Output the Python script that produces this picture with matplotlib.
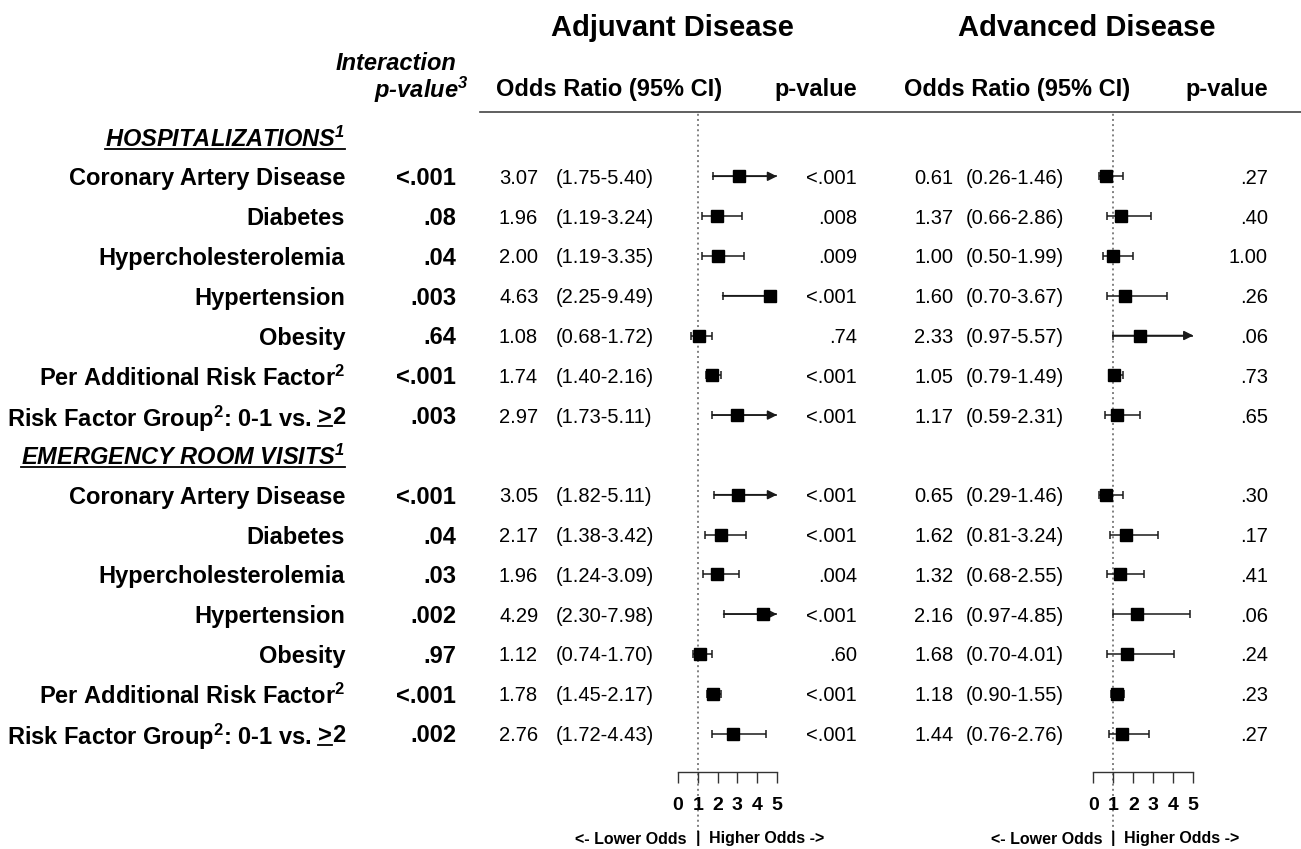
import matplotlib
matplotlib.use("Agg")
import matplotlib.pyplot as plt
import matplotlib.transforms as mtransforms
from matplotlib.lines import Line2D
import numpy as np

plt.rcParams['font.family'] = ['Liberation Sans', 'DejaVu Sans']
plt.rcParams['mathtext.fontset'] = 'custom'
plt.rcParams['mathtext.rm'] = 'Liberation Sans'
plt.rcParams['mathtext.bf'] = 'Liberation Sans:bold'
plt.rcParams['mathtext.it'] = 'Liberation Sans:italic'
plt.rcParams['mathtext.bfit'] = 'Liberation Sans:italic:bold'

# ---- data ----
sections = ["HOSPITALIZATIONS", "EMERGENCY ROOM VISITS"]
factors = ["Coronary Artery Disease", "Diabetes", "Hypercholesterolemia",
           "Hypertension", "Obesity", "Per Additional Risk Factor$^{\\mathbf{2}}$",
           "Risk Factor Group$^{\\mathbf{2}}$: 0-1 vs. >2"]

interaction_p = ["<.001", ".08", ".04", ".003", ".64", "<.001", ".003",
                 "<.001", ".04", ".03", ".002", ".97", "<.001", ".002"]

adj_or = [3.07, 1.96, 2.00, 4.63, 1.08, 1.74, 2.97,
          3.05, 2.17, 1.96, 4.29, 1.12, 1.78, 2.76]
adj_lo = [1.75, 1.19, 1.19, 2.25, 0.68, 1.40, 1.73,
          1.82, 1.38, 1.24, 2.30, 0.74, 1.45, 1.72]
adj_hi = [5.40, 3.24, 3.35, 9.49, 1.72, 2.16, 5.11,
          5.11, 3.42, 3.09, 7.98, 1.70, 2.17, 4.43]
adj_p = ["<.001", ".008", ".009", "<.001", ".74", "<.001", "<.001",
         "<.001", "<.001", ".004", "<.001", ".60", "<.001", "<.001"]

adv_or = [0.61, 1.37, 1.00, 1.60, 2.33, 1.05, 1.17,
          0.65, 1.62, 1.32, 2.16, 1.68, 1.18, 1.44]
adv_lo = [0.26, 0.66, 0.50, 0.70, 0.97, 0.79, 0.59,
          0.29, 0.81, 0.68, 0.97, 0.70, 0.90, 0.76]
adv_hi = [1.46, 2.86, 1.99, 3.67, 5.57, 1.49, 2.31,
          1.46, 3.24, 2.55, 4.85, 4.01, 1.55, 2.76]
adv_p = [".27", ".40", "1.00", ".26", ".06", ".73", ".65",
         ".30", ".17", ".41", ".06", ".24", ".23", ".27"]

ticks = [0, 1, 2, 3, 4, 5]
X_MAX = 5

# ---- layout (pixels) ----
W, H = 1301, 849
TOP_PX, AXIS_PX = 113, 772
ROW0_PX, ROW_PX = 136.5, 39.8
header_slots = [0, 8]
row_slots = np.array(list(range(1, 8)) + list(range(9, 16)))
INK = '#1a1a1a'

fig = plt.figure(figsize=(W / 100, H / 100), dpi=100)
lay = fig.add_axes([0, 0, 1, 1])
lay.set_xlim(0, W)
lay.set_ylim(H, 0)
lay.axis('off')


def px_axes(left, top, right, bottom):
    return fig.add_axes([left / W, 1 - bottom / H, (right - left) / W, (bottom - top) / H])


def make_forest(zero_px, ppu):
    ax = px_axes(zero_px - 1.5 * ppu, TOP_PX, zero_px + 6.5 * ppu, AXIS_PX)
    ax.set_xlim(-1.5, 6.5)
    ax.set_ylim((AXIS_PX - ROW0_PX) / ROW_PX, (TOP_PX - ROW0_PX) / ROW_PX)
    ax.patch.set_alpha(0)
    for s in ['top', 'left', 'right']:
        ax.spines[s].set_visible(False)
    ax.spines['bottom'].set_bounds(ticks[0], ticks[-1])
    ax.spines['bottom'].set_color('#333333')
    ax.spines['bottom'].set_linewidth(1.0)
    ax.set_yticks([])
    ax.set_xticks(ticks)
    ax.tick_params(axis='x', direction='out', length=8, width=1.0, pad=10,
                   labelsize=14, color='#333333')
    for lab in ax.get_xticklabels():
        lab.set_fontweight('bold')
    ax.axvline(1, ymin=-0.091, ymax=1, clip_on=False, ls=':', color='#808080', lw=1.4, zorder=0)
    t = ax.get_xaxis_transform()
    yb = -(839 - AXIS_PX) / (AXIS_PX - TOP_PX)
    ax.text(1 - 0.55, yb, "<- Lower Odds", transform=t, ha='right', va='center',
            fontsize=11.5, fontweight='bold')
    ax.text(1, yb, "|", transform=t, ha='center', va='center', fontsize=11.5, fontweight='bold')
    ax.text(1 + 0.55, yb, "Higher Odds ->", transform=t, ha='left', va='center',
            fontsize=11.5, fontweight='bold')
    return ax


def draw_forest(ax, or_, lo, hi):
    or_, lo, hi = np.array(or_), np.array(lo), np.array(hi)
    y = row_slots
    capped = hi > X_MAX
    right = np.minimum(hi, X_MAX)
    cap = 4 / ROW_PX
    ax.hlines(y, lo, right, color=INK, lw=1.1, zorder=2)
    ax.vlines(lo, y - cap, y + cap, color=INK, lw=1.1, zorder=2)
    ax.vlines(right[~capped], y[~capped] - cap, y[~capped] + cap, color=INK, lw=1.1, zorder=2)
    for yy, l in zip(y[capped], lo[capped]):
        ax.annotate("", xy=(X_MAX, yy), xytext=(l, yy),
                    arrowprops=dict(arrowstyle='-|>', color=INK, lw=1.1,
                                    mutation_scale=14, shrinkA=0, shrinkB=0))
    ax.plot(or_, y, 's', ms=8, color='black', zorder=3)


ax_adj = make_forest(678, 19.8)
ax_adv = make_forest(1093.3, 20.0)
draw_forest(ax_adj, adj_or, adj_lo, adj_hi)
draw_forest(ax_adv, adv_or, adv_lo, adv_hi)

row_tf = mtransforms.blended_transform_factory(lay.transData, ax_adj.transData)
renderer = fig.canvas.get_renderer()

# titles and headers
lay.text(672, 28, "Adjuvant Disease", ha='center', va='center', fontsize=21, fontweight='bold')
lay.text(1087, 28, "Advanced Disease", ha='center', va='center', fontsize=21, fontweight='bold')
lay.text(456, 63, "Interaction", ha='right', va='center', fontsize=17,
         fontweight='bold', style='italic')
lay.text(468, 90, "p-value$^{\\mathbfit{3}}$", ha='right', va='center', fontsize=17,
         fontweight='bold', style='italic')
for x0, x1 in [(496, 857), (904, 1268)]:
    lay.text(x0, 89, "Odds Ratio (95% CI)", ha='left', va='center', fontsize=17, fontweight='bold')
    lay.text(x1, 89, "p-value", ha='right', va='center', fontsize=17, fontweight='bold')
lay.plot([480, W], [112, 112], color='#444444', lw=1.2)


def underline(t):
    bb = t.get_window_extent(renderer)
    inv = fig.transFigure.inverted()
    (fx0, fy), (fx1, _) = inv.transform([(bb.x0, bb.y0 + 3), (bb.x1, bb.y0 + 3)])
    fig.add_artist(Line2D([fx0, fx1], [fy, fy], transform=fig.transFigure,
                          color='black', lw=1.3))


def to_lay_x(xd):
    return lay.transData.inverted().transform((xd, 0))[0]


def label(x, slot, s, size=17, **kw):
    return lay.text(x, slot, s, transform=row_tf, ha='right', va='center_baseline',
                    fontsize=size, fontweight='bold', **kw)


for slot, name in zip(header_slots, sections):
    t = label(345, slot, name + "$^{\\mathbfit{1}}$", size=17, style='italic')
    underline(t)

LABEL_X = 345
for i, slot in enumerate(row_slots):
    name = factors[i % len(factors)]
    if name.endswith(">2"):
        t2 = label(LABEL_X, slot, "2")
        xg = to_lay_x(t2.get_window_extent(renderer).x0)
        tg = label(xg, slot, ">")
        underline(tg)
        label(to_lay_x(tg.get_window_extent(renderer).x0) - 6, slot, name[:-3].rstrip())
    else:
        label(LABEL_X, slot, name)
    label(456, slot, interaction_p[i])

    for x_or, x_ci, x_p, o, l, h, p in [(499, 556, 857, adj_or[i], adj_lo[i], adj_hi[i], adj_p[i]),
                                         (914, 966, 1268, adv_or[i], adv_lo[i], adv_hi[i], adv_p[i])]:
        lay.text(x_or, slot, f"{o:.2f}", transform=row_tf, ha='left', va='center_baseline', fontsize=14.5)
        lay.text(x_ci, slot, f"({l:.2f}-{h:.2f})", transform=row_tf, ha='left',
                 va='center_baseline', fontsize=14.5)
        lay.text(x_p, slot, p, transform=row_tf, ha='right', va='center_baseline', fontsize=14.5)

fig.savefig("out.png", dpi=100)
